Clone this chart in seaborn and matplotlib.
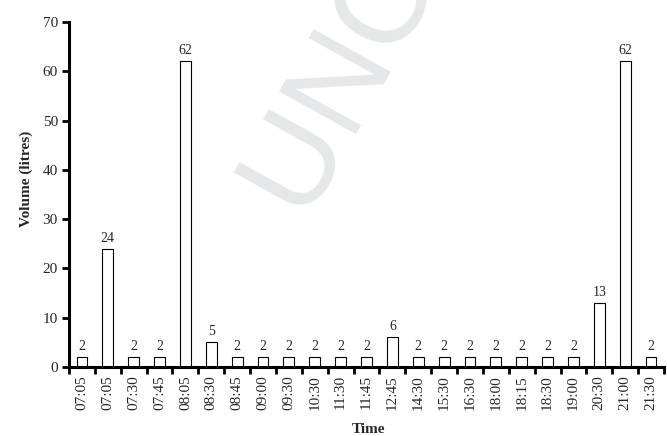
import matplotlib
matplotlib.use("Agg")
import matplotlib.pyplot as plt
import seaborn as sns
import pandas as pd
import numpy as np
from matplotlib.ticker import FixedLocator

times = ["07:05", "07:05", "07:30", "07:45", "08:05", "08:30", "08:45", "09:00",
         "09:30", "10:30", "11:30", "11:45", "12:45", "14:30", "15:30", "16:30",
         "18:00", "18:15", "18:30", "19:00", "20:30", "21:00", "21:30"]
volumes = [2, 24, 2, 2, 62, 5, 2, 2, 2, 2, 2, 2, 6, 2, 2, 2, 2, 2, 2, 2, 13, 62, 2]

df = pd.DataFrame({"slot": list(range(len(times))), "volume": volumes})

sns.set_theme(style="white")
plt.rcParams["font.family"] = ["Liberation Serif", "DejaVu Serif"]

W, H = 667, 436
fig = plt.figure(figsize=(W / 100, H / 100), dpi=100)

# faint proof watermark behind the chart
fig.text(307 / W, 1 - 224 / H, "UNCORRECTED PROOF", transform=fig.transFigure,
         rotation=61, rotation_mode="anchor", ha="left", va="baseline",
         fontsize=92, color="#e6e7e8", family="Liberation Sans", zorder=0)

ax = fig.add_axes([69 / W, 1 - 367 / H, (664 - 69) / W, (367 - 22) / H])
ax.patch.set_alpha(0)

sns.barplot(data=df, x="slot", y="volume", ax=ax, color="white",
            edgecolor="black", linewidth=0.8, width=0.42, saturation=1)

for i, v in enumerate(volumes):
    ax.text(i, v + 0.8, str(v), ha="center", va="bottom", fontsize=10)

ax.set_xlim(-0.5, len(times) - 0.5)
ax.set_ylim(0, 70)
ax.set_yticks(range(0, 71, 10))
ax.set_xticks(range(len(times)))
ax.set_xticklabels(times, rotation=90, fontsize=11)
ax.xaxis.set_minor_locator(FixedLocator(np.arange(-0.5, len(times), 1.0)))
ax.tick_params(axis="x", which="major", length=0, pad=6)
ax.tick_params(axis="x", which="minor", length=5, width=2, direction="out",
               bottom=True, color="black")
ax.tick_params(axis="y", length=5, width=2, direction="out", left=True,
               labelsize=11, color="black", pad=3)

for side in ["top", "right"]:
    ax.spines[side].set_visible(False)
for side in ["left", "bottom"]:
    ax.spines[side].set_linewidth(2.2)
    ax.spines[side].set_color("black")

ax.set_xlabel("Time", fontsize=11, fontweight="bold")
ax.set_ylabel("Volume (litres)", fontsize=11, fontweight="bold")
ax.xaxis.set_label_coords(0.504, -0.163)
ax.yaxis.set_label_coords(-0.06, 0.545)

fig.savefig("out.png", dpi=100)
